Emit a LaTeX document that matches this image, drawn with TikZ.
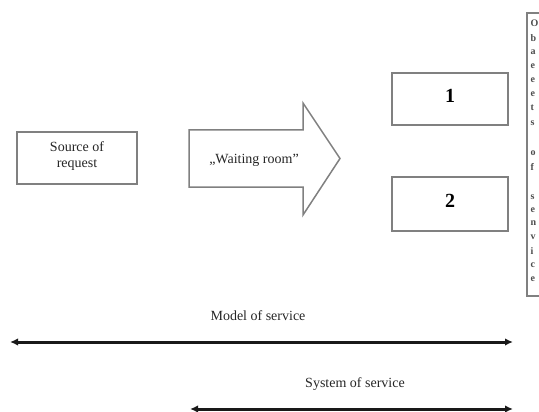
\documentclass[tikz,border=0pt]{standalone}
\usepackage{fontspec}
\setmainfont{Liberation Serif}
\usetikzlibrary{arrows.meta}
\tikzset{
  px/.style={x=1pt,y=1pt},
  graybox/.style={draw=black!50, line width=1.5pt, fill=white},
  lbl/.style={font=\fontsize{14}{16}\selectfont, inner sep=0pt, text=black!85},
  num/.style={font=\fontsize{20}{22}\selectfont\bfseries, inner sep=0pt},
  clip letter/.style={font=\fontsize{10}{12}\selectfont\bfseries, inner sep=0pt, anchor=west, text=black!70},
  dimarrow/.style={draw=black!90, line width=3pt, {Latex[length=8pt,width=7.5pt]}-{Latex[length=8pt,width=7.5pt]}},
}
\begin{document}
\begin{tikzpicture}[px]
\useasboundingbox (0,0) rectangle (539,-412);
\begin{scope}
\clip (0,0) rectangle (539,-412);
% source of request
\node[graybox, minimum width=120pt, minimum height=52pt, inner sep=0pt] (src) at (77,-158) {};
\node[lbl, align=center] (srctxt) at (77,-156) {Source of\\request};
% waiting room arrow
\draw[graybox] (189,-130) -- (303,-130) -- (303,-103) -- (340,-158.5) -- (303,-215) -- (303,-187) -- (189,-187) -- cycle;
\node[lbl] (wait) at (254,-160) {„Waiting room”};
% service channels
\node[graybox, minimum width=116pt, minimum height=52pt, inner sep=0pt] (ch1) at (450,-99) {};
\node[num] (n1) at (450,-96) {1};
\node[graybox, minimum width=116pt, minimum height=54pt, inner sep=0pt] (ch2) at (450,-204) {};
\node[num] (n2) at (450,-201) {2};
% clipped text box at right edge
\draw[graybox] (560,-13) -- (527,-13) -- (527,-296) -- (560,-296);
\foreach \l/\y [count=\i] in {O/23,b/38,a/52,e/66,e/80,e/94,t/108,s/123,o/153,f/167,s/197,e/210,n/223,v/237,i/251,c/265,e/279}
  \node[clip letter] (r\i) at (530.5,-\y) {\l};
% dimension arrows
\coordinate (mL) at (10,-342);
\coordinate (mR) at (513,-342);
\draw[dimarrow] (mL) -- (mR);
\node[lbl] (mlab) at (258,-316) {Model of service};
\coordinate (sL) at (190,-409);
\coordinate (sR) at (513,-409);
\draw[dimarrow] (sL) -- (sR);
\node[lbl] (slab) at (355,-384) {System of service};
\end{scope}
\end{tikzpicture}
\end{document}
